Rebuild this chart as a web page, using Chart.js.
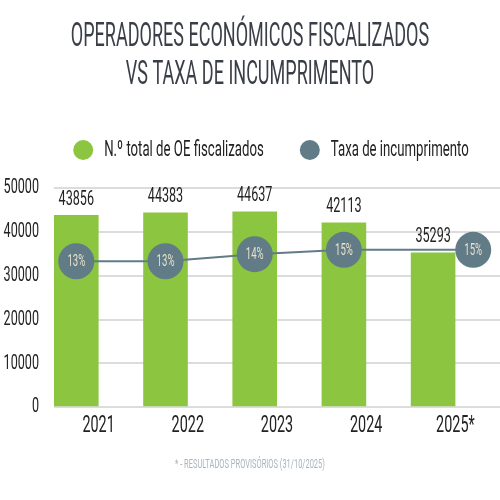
<!DOCTYPE html>
<html>
<head>
<meta charset="utf-8">
<script src="https://cdn.jsdelivr.net/npm/chart.js@4/dist/chart.umd.min.js"></script>
<style>
  html, body { margin: 0; padding: 0; background: #fff; overflow: hidden; }
  #wrap { width: 500px; height: 500px; position: relative; }
</style>
</head>
<body>
<div id="wrap"><canvas id="chart"></canvas></div>
<script>
const years = ['2021', '2022', '2023', '2024', '2025*'];
const operators = [43856, 44383, 44637, 42113, 35293];
const rates = [13.45, 13.45, 14.1, 14.5, 14.5];
// where each rate circle sits, in year-slot units (last one pushed right of its bar)
const rateX = [0, 1, 2, 3, 4.45];
const yTicks = [0, 10000, 20000, 30000, 40000, 50000];

const green = '#8cc540';
const slate = '#617c86';
const FONT = "Roboto, 'Liberation Sans', sans-serif";

// the reference uses a very narrow type, squeeze every canvas text horizontally
const canvas = document.getElementById('chart');
const ctx = canvas.getContext('2d');
const fill = ctx.fillText.bind(ctx);
const measure = ctx.measureText.bind(ctx);
function squeeze(font) {
  const m = /(\d+(\.\d+)?)px/.exec(font);
  const px = m ? parseFloat(m[1]) : 12;
  return px >= 30 ? 0.53 : 0.6;
}
ctx.fillText = function (text, x, y) {
  const sx = squeeze(this.font);
  this.save();
  this.translate(x, y);
  this.scale(sx, 1);
  fill(text, 0, 0);
  this.restore();
};
ctx.measureText = function (text) {
  const m = measure(text);
  const sx = squeeze(this.font);
  return {
    width: m.width * sx,
    actualBoundingBoxAscent: m.actualBoundingBoxAscent,
    actualBoundingBoxDescent: m.actualBoundingBoxDescent
  };
};

// extra room under the legend, and the legend sits a bit right of centre
const legendTweak = {
  id: 'legendTweak',
  beforeInit(chart) {
    const fit = chart.legend.fit;
    chart.legend.fit = function () {
      fit.bind(chart.legend)();
      this.height += 17;
    };
  },
  afterLayout(chart) {
    chart.legend.left += 21;
    chart.legend.right += 21;
  }
};

const valueLabels = {
  id: 'valueLabels',
  afterDatasetsDraw(chart) {
    const c = chart.ctx;
    c.save();
    c.textAlign = 'center';
    // bar totals
    c.fillStyle = '#222';
    c.font = `21px ${FONT}`;
    c.textBaseline = 'bottom';
    chart.getDatasetMeta(0).data.forEach((bar, i) => {
      c.fillText(String(operators[i]), bar.x, bar.y - 5);
    });
    // rates inside the circles
    c.fillStyle = '#e8dfcc';
    c.font = `16px ${FONT}`;
    c.textBaseline = 'middle';
    chart.getDatasetMeta(1).data.forEach((pt, i) => {
      c.fillText(Math.round(rates[i]) + '%', pt.x, pt.y + 1);
    });
    c.restore();
  }
};

new Chart(canvas, {
  data: {
    datasets: [
      {
        type: 'bar',
        label: 'N.º total de OE fiscalizados',
        data: operators.map((v, i) => ({ x: i, y: v })),
        backgroundColor: green,
        categoryPercentage: 1,
        barPercentage: 0.5,
        order: 2
      },
      {
        type: 'line',
        label: 'Taxa de incumprimento',
        data: rates.map((r, i) => ({ x: rateX[i], y: r })),
        yAxisID: 'yr',
        borderColor: slate,
        backgroundColor: slate,
        borderWidth: 2,
        pointRadius: 18,
        pointHoverRadius: 18,
        pointBorderWidth: 0,
        order: 1
      }
    ]
  },
  options: {
    responsive: true,
    maintainAspectRatio: false,
    animation: false,
    layout: { padding: 0, autoPadding: false },
    plugins: {
      title: {
        display: true,
        text: ['OPERADORES ECONÓMICOS FISCALIZADOS', 'VS TAXA DE INCUMPRIMENTO'],
        color: '#3a3f47',
        font: { family: FONT, size: 34, weight: 400, lineHeight: '38px' },
        padding: { top: 18, bottom: 9 }
      },
      subtitle: {
        display: true,
        position: 'bottom',
        text: '* - RESULTADOS PROVISÓRIOS (31/10/2025)',
        color: '#a9b4bc',
        font: { family: FONT, size: 12.5 },
        padding: { top: 13, bottom: 28 }
      },
      legend: {
        display: true,
        labels: {
          usePointStyle: true,
          pointStyle: 'circle',
          pointStyleWidth: 20,
          boxHeight: 14,
          padding: 36,
          color: '#222',
          font: { family: FONT, size: 22 },
          sort: (a, b) => a.datasetIndex - b.datasetIndex
        }
      },
      tooltip: { enabled: false }
    },
    scales: {
      x: {
        type: 'linear',
        offset: false,
        min: -0.25,
        max: 4.75,
        afterBuildTicks: (axis) => { axis.ticks = years.map((y, i) => ({ value: i + 0.25 })); },
        afterFit: (axis) => { axis.paddingLeft = 0; axis.paddingRight = 0; },
        grid: { display: false, drawTicks: false, offset: false },
        border: { display: false },
        ticks: {
          color: '#222',
          font: { family: FONT, size: 24 },
          padding: 4,
          callback: (v, i) => years[i]
        }
      },
      y: {
        min: 0,
        max: 50000,
        afterBuildTicks: (axis) => { axis.ticks = yTicks.map(v => ({ value: v })); },
        afterFit: (axis) => { axis.width = 54; },
        grid: { color: '#dcdcdc', lineWidth: 2, drawTicks: false },
        border: { display: false },
        ticks: {
          color: '#222',
          font: { family: FONT, size: 21 },
          padding: 15,
          callback: (v) => String(v)
        }
      },
      yr: {
        display: false,
        min: 0,
        max: 20.2
      }
    }
  },
  plugins: [legendTweak, valueLabels]
});
</script>
</body>
</html>
